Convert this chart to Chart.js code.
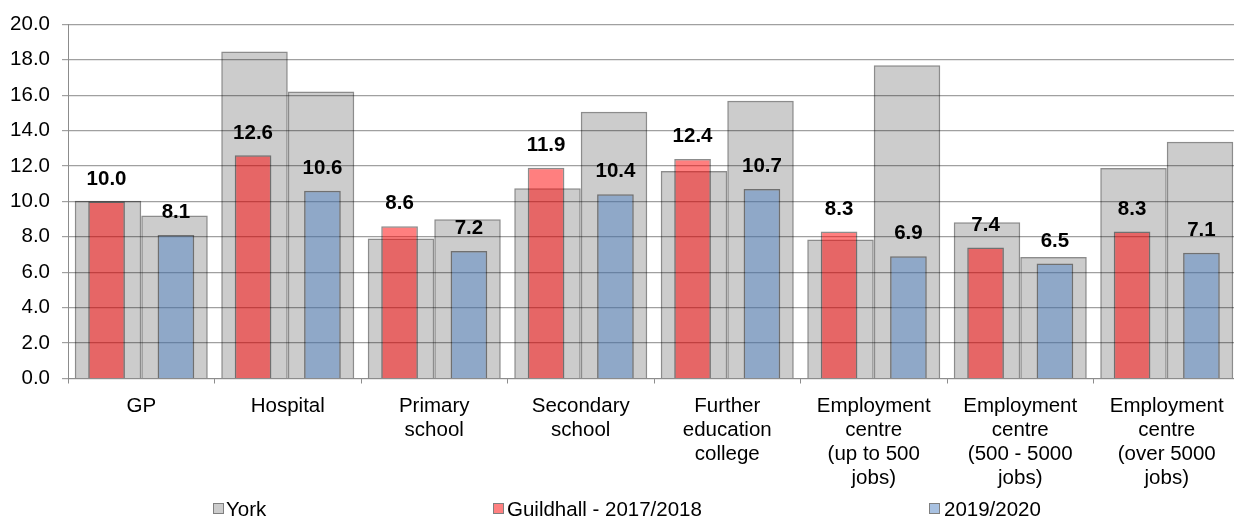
<!DOCTYPE html>
<html>
<head>
<meta charset="utf-8">
<script src="https://cdn.jsdelivr.net/npm/chart.js@4/dist/chart.umd.min.js"></script>
<style>
html,body{margin:0;padding:0;overflow:hidden;background:#fff;}
#wrap{position:relative;width:1240px;height:520px;}
</style>
</head>
<body>
<div id="wrap"><canvas id="c"></canvas></div>
<script>
const categories = ['GP','Hospital',['Primary','school'],['Secondary','school'],['Further','education','college'],['Employment','centre','(up to 500','jobs)'],['Employment','centre','(500 - 5000','jobs)'],['Employment','centre','(over 5000','jobs)']];
const york2017 = [10.03, 18.46, 7.91, 10.74, 11.71, 7.85, 8.82, 11.88];
const york2019 = [9.21, 16.2, 8.99, 15.06, 15.68, 17.69, 6.86, 13.37];
const guildhall2017 = [10.0, 12.6, 8.6, 11.9, 12.4, 8.3, 7.4, 8.3];
const guildhall2019 = [8.1, 10.6, 7.2, 10.4, 10.7, 6.9, 6.5, 7.1];
const yTicks = [0,2,4,6,8,10,12,14,16,18,20];
const legendLabels = ['York','Guildhall - 2017/2018','2019/2020'];

const FONT = "'Liberation Sans', Arial, sans-serif";
const GREY = 'rgba(0,0,0,0.2)';
const RED = 'rgba(255,0,0,0.5)';
const BLUE = 'rgba(82,132,196,0.5)';
const BORDER = 'rgba(0,0,0,0.45)';

const labelPlugin = {
  id:'valueLabels',
  afterDatasetsDraw(chart){
    const ctx = chart.ctx;
    ctx.save();
    ctx.font = 'bold 20.5px ' + FONT;
    ctx.fillStyle = '#000';
    ctx.textAlign = 'center';
    ctx.textBaseline = 'middle';
    [2,3].forEach(di=>{
      const meta = chart.getDatasetMeta(di);
      const data = chart.data.datasets[di].data;
      meta.data.forEach((bar,i)=>{
        ctx.fillText(data[i].toFixed(1), bar.x, bar.y - 22.5);
      });
    });
    ctx.restore();
  }
};

const legendPlugin = {
  id:'customLegend',
  afterDraw(chart){
    const ctx = chart.ctx;
    const items = [
      {box:213, text:226, fill:'#cccccc', label:legendLabels[0]},
      {box:493, text:507, fill:'#ff8080', label:legendLabels[1]},
      {box:929, text:944, fill:'#a8c1e1', label:legendLabels[2]}
    ];
    ctx.save();
    ctx.font = '20.5px ' + FONT;
    ctx.textBaseline = 'middle';
    ctx.textAlign = 'left';
    items.forEach(it=>{
      ctx.fillStyle = it.fill;
      ctx.fillRect(it.box, 503, 10, 11);
      ctx.strokeStyle = '#7f7f7f';
      ctx.lineWidth = 1;
      ctx.strokeRect(it.box+0.5, 503.5, 10, 10);
      ctx.fillStyle = '#000';
      ctx.fillText(it.label, it.text, 510);
    });
    ctx.restore();
  }
};

new Chart(document.getElementById('c'), {
  type:'bar',
  data:{
    labels:categories,
    datasets:[
      {label:'York', data:york2017, stack:'A', backgroundColor:GREY, borderColor:BORDER, borderWidth:1.5, categoryPercentage:0.908, barPercentage:1.0, order:2},
      {label:'York ', data:york2019, stack:'B', backgroundColor:GREY, borderColor:BORDER, borderWidth:1.5, categoryPercentage:0.908, barPercentage:1.0, order:2},
      {label:'Guildhall - 2017/2018', data:guildhall2017, stack:'A', backgroundColor:RED, borderColor:BORDER, borderWidth:1.5, categoryPercentage:0.947, barPercentage:0.529, order:1},
      {label:'2019/2020', data:guildhall2019, stack:'B', backgroundColor:BLUE, borderColor:BORDER, borderWidth:1.5, categoryPercentage:0.947, barPercentage:0.529, order:1}
    ]
  },
  options:{
    responsive:true,
    maintainAspectRatio:false,
    animation:false,
    layout:{padding:{top:21,left:0,right:0,bottom:0}},
    plugins:{legend:{display:false}, tooltip:{enabled:false}},
    scales:{
      x:{
        stacked:true,
        offset:true,
        grid:{display:true, drawOnChartArea:false, drawTicks:true, tickLength:5, offset:true, color:'#8c8c8c'},
        border:{display:true, color:'#8c8c8c'},
        ticks:{font:{family:FONT, size:20.5, lineHeight:24/20.5}, color:'#000', padding:11, maxRotation:0, autoSkip:false},
        afterFit(s){ s.height = 141.5; }
      },
      y:{
        stacked:false,
        min:0, max:20,
        afterBuildTicks(s){ s.ticks = yTicks.map(v=>({value:v})); },
        grid:{color:'#a0a0a0', lineWidth:1.2, tickLength:6, drawTicks:true},
        border:{display:true, color:'#8c8c8c'},
        ticks:{font:{family:FONT, size:20.5}, color:'#000', padding:12, callback:v=>Number(v).toFixed(1)},
        afterFit(s){ s.width = 68; }
      }
    }
  },
  plugins:[labelPlugin, legendPlugin]
});
</script>
</body>
</html>
